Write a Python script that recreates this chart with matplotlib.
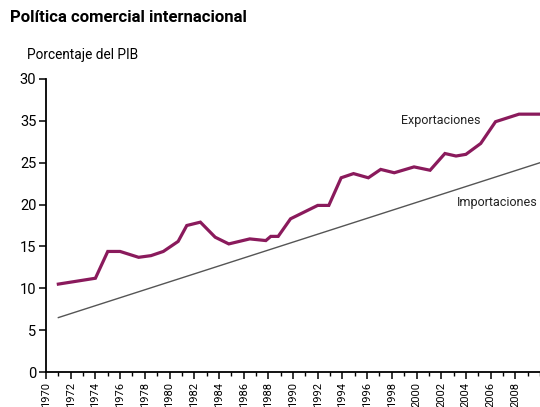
import matplotlib
matplotlib.use("Agg")
import matplotlib.pyplot as plt
from matplotlib.ticker import MultipleLocator

plt.rcParams['font.family'] = ['Roboto', 'DejaVu Sans']

title = "Política comercial internacional"
ylabel = "Porcentaje del PIB"

exp_years = [1971, 1974, 1975, 1976, 1977.5, 1978.5, 1979.5, 1980.7, 1981.4, 1982.5,
             1983.7, 1984.8, 1986.5, 1987.8, 1988.2, 1988.8, 1989.8, 1992, 1992.9,
             1993.9, 1994.9, 1996.1, 1997.1, 1998.2, 1999.8, 2001.1, 2002.3, 2003.2,
             2004.0, 2005.2, 2006.4, 2008.3, 2010]
exp_values = [10.5, 11.2, 14.4, 14.4, 13.7, 13.9, 14.4, 15.6, 17.5, 17.9,
              16.1, 15.3, 15.9, 15.7, 16.2, 16.2, 18.3, 19.9, 19.9,
              23.2, 23.7, 23.2, 24.2, 23.8, 24.5, 24.1, 26.1, 25.8,
              26.0, 27.3, 29.9, 30.8, 30.8]

imp_years = [1971, 2010]
imp_values = [6.5, 25.0]

ytick_values = [0, 5, 10, 15, 20, 25, 30, 35]
ytick_labels = ["0", "5", "10", "15", "20", "25", "35", "30"]
xtick_years = list(range(1970, 2009, 2))

W, H = 540, 407
fig = plt.figure(figsize=(W / 100, H / 100), dpi=100)
left, right, bottom, top = 46, 540, 372, 79
ax = fig.add_axes([left / W, (H - bottom) / H, (right - left) / W, (bottom - top) / H])

ax.plot(imp_years, imp_values, color='#555555', lw=1.0)
ax.plot(exp_years, exp_values, color='#8a1a5c', lw=2.3, solid_joinstyle='miter')

ax.set_xlim(1970, 2010)
ax.set_ylim(0, 35)
ax.set_yticks(ytick_values)
ax.set_yticklabels(ytick_labels)
ax.set_xticks(xtick_years)
ax.set_xticklabels([str(y) for y in xtick_years], rotation=90)
ax.xaxis.set_minor_locator(MultipleLocator(1))

for s in ['top', 'right']:
    ax.spines[s].set_visible(False)
for s in ['left', 'bottom']:
    ax.spines[s].set_linewidth(1.3)
    ax.spines[s].set_color('black')

ax.tick_params(axis='y', length=5, width=1.1, labelsize=10.5, pad=2)
ax.tick_params(axis='x', which='major', length=5, width=1.1, labelsize=8, pad=2)
ax.tick_params(axis='x', which='minor', length=3, width=1.0)

ax.text(0.80, 0.86, "Exportaciones", transform=ax.transAxes, fontsize=9,
        ha='center', va='center', color='#222222')
ax.text(0.995, 0.577, "Importaciones", transform=ax.transAxes, fontsize=9,
        ha='right', va='center', color='#222222')

fig.text(10 / W, 1 - 18 / H, title, fontsize=12, fontweight='bold', ha='left', va='center')
fig.text(27 / W, 1 - 55 / H, ylabel, fontsize=9.8, ha='left', va='center')

fig.savefig("out.png", dpi=100)
